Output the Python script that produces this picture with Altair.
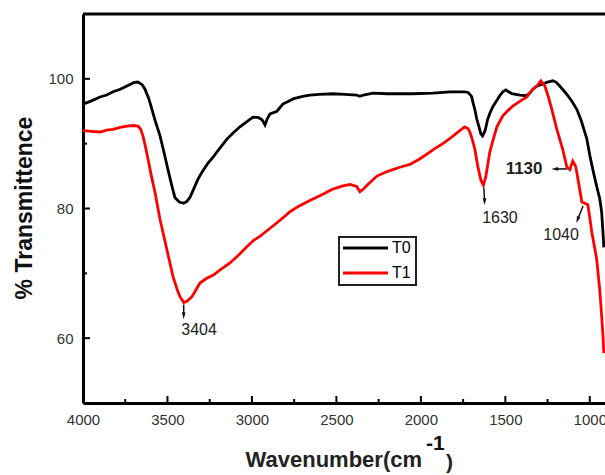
import altair as alt
import pandas as pd

# FTIR spectra: wavenumber (cm-1) and % transmittance for each sample
t0_wn = [4000, 3950, 3899, 3860, 3822, 3780, 3740, 3700, 3675, 3650, 3633, 3610, 3592, 3570,
         3544, 3520, 3497, 3475, 3456, 3430, 3404, 3385, 3367, 3340, 3320, 3296, 3260, 3231,
         3190, 3148, 3110, 3071, 3030, 2994, 2960, 2940, 2923, 2910, 2893, 2852, 2817, 2780,
         2757, 2700, 2657, 2600, 2521, 2450, 2380, 2361, 2340, 2284, 2200, 2124, 2050, 1929,
         1828, 1740, 1720, 1700, 1692, 1680, 1669, 1655, 1645, 1635, 1620, 1604, 1590, 1574,
         1550, 1533, 1515, 1497, 1480, 1462, 1414, 1373, 1355, 1337, 1310, 1278, 1250, 1219,
         1200, 1178, 1155, 1130, 1105, 1077, 1050, 1018, 1000, 982, 960, 941, 930, 920, 917]
t0_tr = [96.1, 96.6, 97.2, 97.5, 98.0, 98.4, 98.9, 99.4, 99.5, 99.1, 98.4, 96.9, 95.3, 93.3,
         91.2, 88.6, 86.0, 83.6, 81.7, 81.0, 80.8, 81.1, 81.7, 83.3, 84.5, 85.6, 87.0, 87.9,
         89.3, 90.7, 91.7, 92.6, 93.4, 94.1, 94.0, 93.7, 92.9, 93.8, 94.6, 95.0, 96.1, 96.6,
         96.9, 97.3, 97.5, 97.6, 97.7, 97.6, 97.5, 97.3, 97.5, 97.8, 97.7, 97.7, 97.7, 97.8,
         98.0, 98.0, 97.9, 97.3, 96.4, 95.2, 93.8, 92.5, 91.5, 91.2, 92.0, 93.8, 94.8, 95.7,
         96.7, 97.4, 98.0, 98.3, 98.0, 97.7, 97.5, 97.4, 97.8, 98.4, 98.9, 99.2, 99.5, 99.7,
         99.5, 98.9, 98.2, 97.4, 96.5, 95.3, 93.5, 90.8, 88.2, 86.0, 83.5, 81.5, 79.5, 75.5, 74.0]

t1_wn = [4000, 3950, 3899, 3860, 3822, 3780, 3740, 3700, 3675, 3660, 3645, 3630, 3615, 3595,
         3574, 3544, 3503, 3467, 3440, 3426, 3404, 3385, 3355, 3330, 3308, 3270, 3231, 3180,
         3130, 3080, 3030, 2990, 2953, 2900, 2852, 2810, 2775, 2720, 2675, 2620, 2580, 2521,
         2462, 2420, 2380, 2361, 2340, 2314, 2260, 2210, 2166, 2120, 2065, 2010, 1964, 1920,
         1870, 1828, 1790, 1760, 1740, 1720, 1710, 1695, 1680, 1663, 1645, 1630, 1615, 1600,
         1592, 1570, 1550, 1515, 1485, 1456, 1410, 1373, 1337, 1310, 1290, 1266, 1245, 1225,
         1195, 1160, 1136, 1118, 1101, 1085, 1077, 1060, 1047, 1030, 1012, 1000, 988, 970,
         959, 941, 930, 923, 917]
t1_tr = [92.0, 91.9, 91.8, 92.1, 92.2, 92.5, 92.7, 92.8, 92.7, 92.3, 91.2, 89.5, 87.6, 85.0,
         82.5, 78.3, 73.6, 69.5, 67.3, 66.4, 65.5, 65.7, 66.4, 67.5, 68.5, 69.2, 69.7, 70.7,
         71.6, 72.8, 74.1, 75.1, 75.7, 76.8, 77.8, 78.7, 79.5, 80.4, 81.0, 81.7, 82.2, 83.0,
         83.5, 83.7, 83.4, 82.6, 83.0, 83.7, 85.0, 85.6, 86.0, 86.4, 86.8, 87.6, 88.4, 89.2,
         90.0, 90.8, 91.6, 92.2, 92.6, 92.3, 91.8, 90.6, 89.1, 86.5, 84.4, 83.6, 85.0, 87.4,
         88.7, 90.8, 92.6, 94.3, 95.1, 95.8, 96.6, 97.2, 98.4, 99.0, 99.7, 98.9, 97.2, 95.3,
         92.2, 89.1, 86.4, 86.0, 87.3, 86.6, 85.6, 83.0, 81.0, 80.8, 80.6, 78.6, 76.3, 73.8,
         72.1, 67.4, 63.5, 60.8, 57.7]

series_names = ["T0", "T1"]
series_colors = ["#000000", "#ff0000"]

# axis ticks
x_major = [4000, 3500, 3000, 2500, 2000, 1500, 1000]
x_minor = [3750, 3250, 2750, 2250, 1750, 1250]
y_major = [60, 80, 100]
y_minor = [70, 90]

# peak annotations: arrow from the band on the curve towards its label
ann_text = ["3404", "1630", "1130", "1040"]
ann_tip_wn = [3404, 1627, 1136, 1040]
ann_tip_tr = [65.2, 83.2, 86.1, 80.4]
ann_head_wn = [3404, 1623, 1206, 1072]
ann_head_tr = [63.5, 81.1, 86.1, 78.3]
ann_head_angle = [0, 0, 90, 19]
ann_label_wn = [3313, 1532, 1389, 1170]
ann_label_tr = [61.3, 78.5, 86.1, 75.9]
ann_bold = [False, False, True, False]

W, H = 522, 389
FONT = "Liberation Sans"

spectra = pd.concat([
    pd.DataFrame({"wn": t0_wn, "tr": t0_tr, "sample": series_names[0]}),
    pd.DataFrame({"wn": t1_wn, "tr": t1_tr, "sample": series_names[1]}),
])
ann = pd.DataFrame({
    "text": ann_text, "tip_wn": ann_tip_wn, "tip_tr": ann_tip_tr,
    "head_wn": ann_head_wn, "head_tr": ann_head_tr, "angle": ann_head_angle,
    "lab_wn": ann_label_wn, "lab_tr": ann_label_tr, "bold": ann_bold,
})
legend_df = pd.DataFrame({"sample": series_names, "color": series_colors, "row": [0, 1]})
one = pd.DataFrame({"k": [0]})

xs = alt.Scale(domain=[910, 4000], reverse=True, nice=False, zero=False)
ys = alt.Scale(domain=[50, 110], nice=False, zero=False)

x_axis = alt.Axis(values=x_major, format="d", ticks=False, tickSize=0, grid=False,
                  domainColor="black", domainWidth=3, labelFont=FONT, labelFontSize=15,
                  labelColor="#333333", labelPadding=9, title=None, labelFlush=False)
y_axis = alt.Axis(values=y_major, format="d", ticks=False, tickSize=0, grid=False,
                  domainColor="black", domainWidth=3, labelFont=FONT, labelFontSize=15,
                  labelColor="#333333", labelPadding=10, title=None)

lines = alt.Chart(spectra).mark_line(strokeWidth=2.8, clip=True).encode(
    x=alt.X("wn:Q", scale=xs, axis=x_axis),
    y=alt.Y("tr:Q", scale=ys, axis=y_axis),
    color=alt.Color("sample:N", scale=alt.Scale(domain=series_names, range=series_colors),
                    legend=None),
    order=alt.Order("wn:Q"),
)

# inward ticks
def xticks(vals, length):
    return alt.Chart(pd.DataFrame({"v": vals})).mark_rule(strokeWidth=2, color="black").encode(
        x=alt.X("v:Q", scale=xs), y=alt.value(H), y2=alt.value(H - length))

def yticks(vals, length):
    return alt.Chart(pd.DataFrame({"v": vals})).mark_rule(strokeWidth=2, color="black").encode(
        y=alt.Y("v:Q", scale=ys), x=alt.value(0), x2=alt.value(length))

top_border = alt.Chart(one).mark_rule(strokeWidth=3, color="black").encode(
    x=alt.value(0), x2=alt.value(W), y=alt.value(0))

arrow_lines = alt.Chart(ann).mark_rule(strokeWidth=1.5, color="#111111").encode(
    x=alt.X("tip_wn:Q", scale=xs), x2="head_wn:Q",
    y=alt.Y("tip_tr:Q", scale=ys), y2="head_tr:Q")
arrow_heads = alt.Chart(ann).mark_point(
    shape="M-0.35,-0.6L0.35,-0.6L0,0.7Z", filled=True, size=110, color="#111111", opacity=1
).encode(
    x=alt.X("head_wn:Q", scale=xs), y=alt.Y("head_tr:Q", scale=ys),
    angle=alt.Angle("angle:Q", scale=None))

labels_regular = alt.Chart(ann).transform_filter("!datum.bold").mark_text(
    font=FONT, fontSize=16, color="#222222", baseline="middle", align="center"
).encode(x=alt.X("lab_wn:Q", scale=xs), y=alt.Y("lab_tr:Q", scale=ys), text="text:N")
labels_bold = alt.Chart(ann).transform_filter("datum.bold").mark_text(
    font=FONT, fontSize=17, fontWeight="bold", color="#222222", baseline="middle", align="center"
).encode(x=alt.X("lab_wn:Q", scale=xs), y=alt.Y("lab_tr:Q", scale=ys), text="text:N")

# legend box
LX, LY, LW, LH = 256, 223, 77, 48
row_scale = alt.Scale(domain=[0, 1], range=[LY + 11, LY + 36])
legend_box = alt.Chart(one).mark_rect(fill="white", stroke="#222222", strokeWidth=2).encode(
    x=alt.value(LX), x2=alt.value(LX + LW), y=alt.value(LY), y2=alt.value(LY + LH))
legend_lines = alt.Chart(legend_df).mark_rule(strokeWidth=3).encode(
    x=alt.value(LX + 4), x2=alt.value(LX + 49),
    y=alt.Y("row:Q", scale=row_scale, axis=None),
    color=alt.Color("color:N", scale=None))
legend_text = alt.Chart(legend_df).mark_text(
    font=FONT, fontSize=16, align="left", baseline="middle", color="black"
).encode(
    x=alt.value(LX + 53),
    y=alt.Y("row:Q", scale=row_scale, axis=None),
    text="sample:N")

# axis titles
y_title = alt.Chart(one).mark_text(
    text="% Transmittence", font=FONT, fontSize=23, fontWeight="bold", angle=270,
    align="center", baseline="middle", color="#111111"
).encode(x=alt.value(-58), y=alt.value(194))
x_title = alt.Chart(one).mark_text(
    text="Wavenumber(cm", font=FONT, fontSize=22, fontWeight="bold", align="right",
    baseline="alphabetic", color="#222222"
).encode(x=alt.value(339), y=alt.value(453))
x_title_sup = alt.Chart(one).mark_text(
    text="-1", font=FONT, fontSize=21, fontWeight="bold", align="left",
    baseline="alphabetic", color="#111111"
).encode(x=alt.value(343), y=alt.value(436))
x_title_end = alt.Chart(one).mark_text(
    text=")", font=FONT, fontSize=21, fontWeight="bold", align="left",
    baseline="alphabetic", color="#222222"
).encode(x=alt.value(363), y=alt.value(455))

chart = alt.layer(
    lines,
    xticks(x_major[1:], 7), xticks(x_minor, 4),
    yticks(y_major, 7), yticks(y_minor, 4),
    top_border,
    arrow_lines, arrow_heads, labels_regular, labels_bold,
    legend_box, legend_lines, legend_text,
    y_title, x_title, x_title_sup, x_title_end,
).resolve_scale(y="independent").properties(
    width=W, height=H,
    autosize=alt.AutoSizeParams(type="none"),
    padding={"left": 83, "top": 14, "right": 0, "bottom": 72},
).configure_view(stroke=None)

chart.save("out.html", embed_options={"renderer": "svg", "actions": False})
